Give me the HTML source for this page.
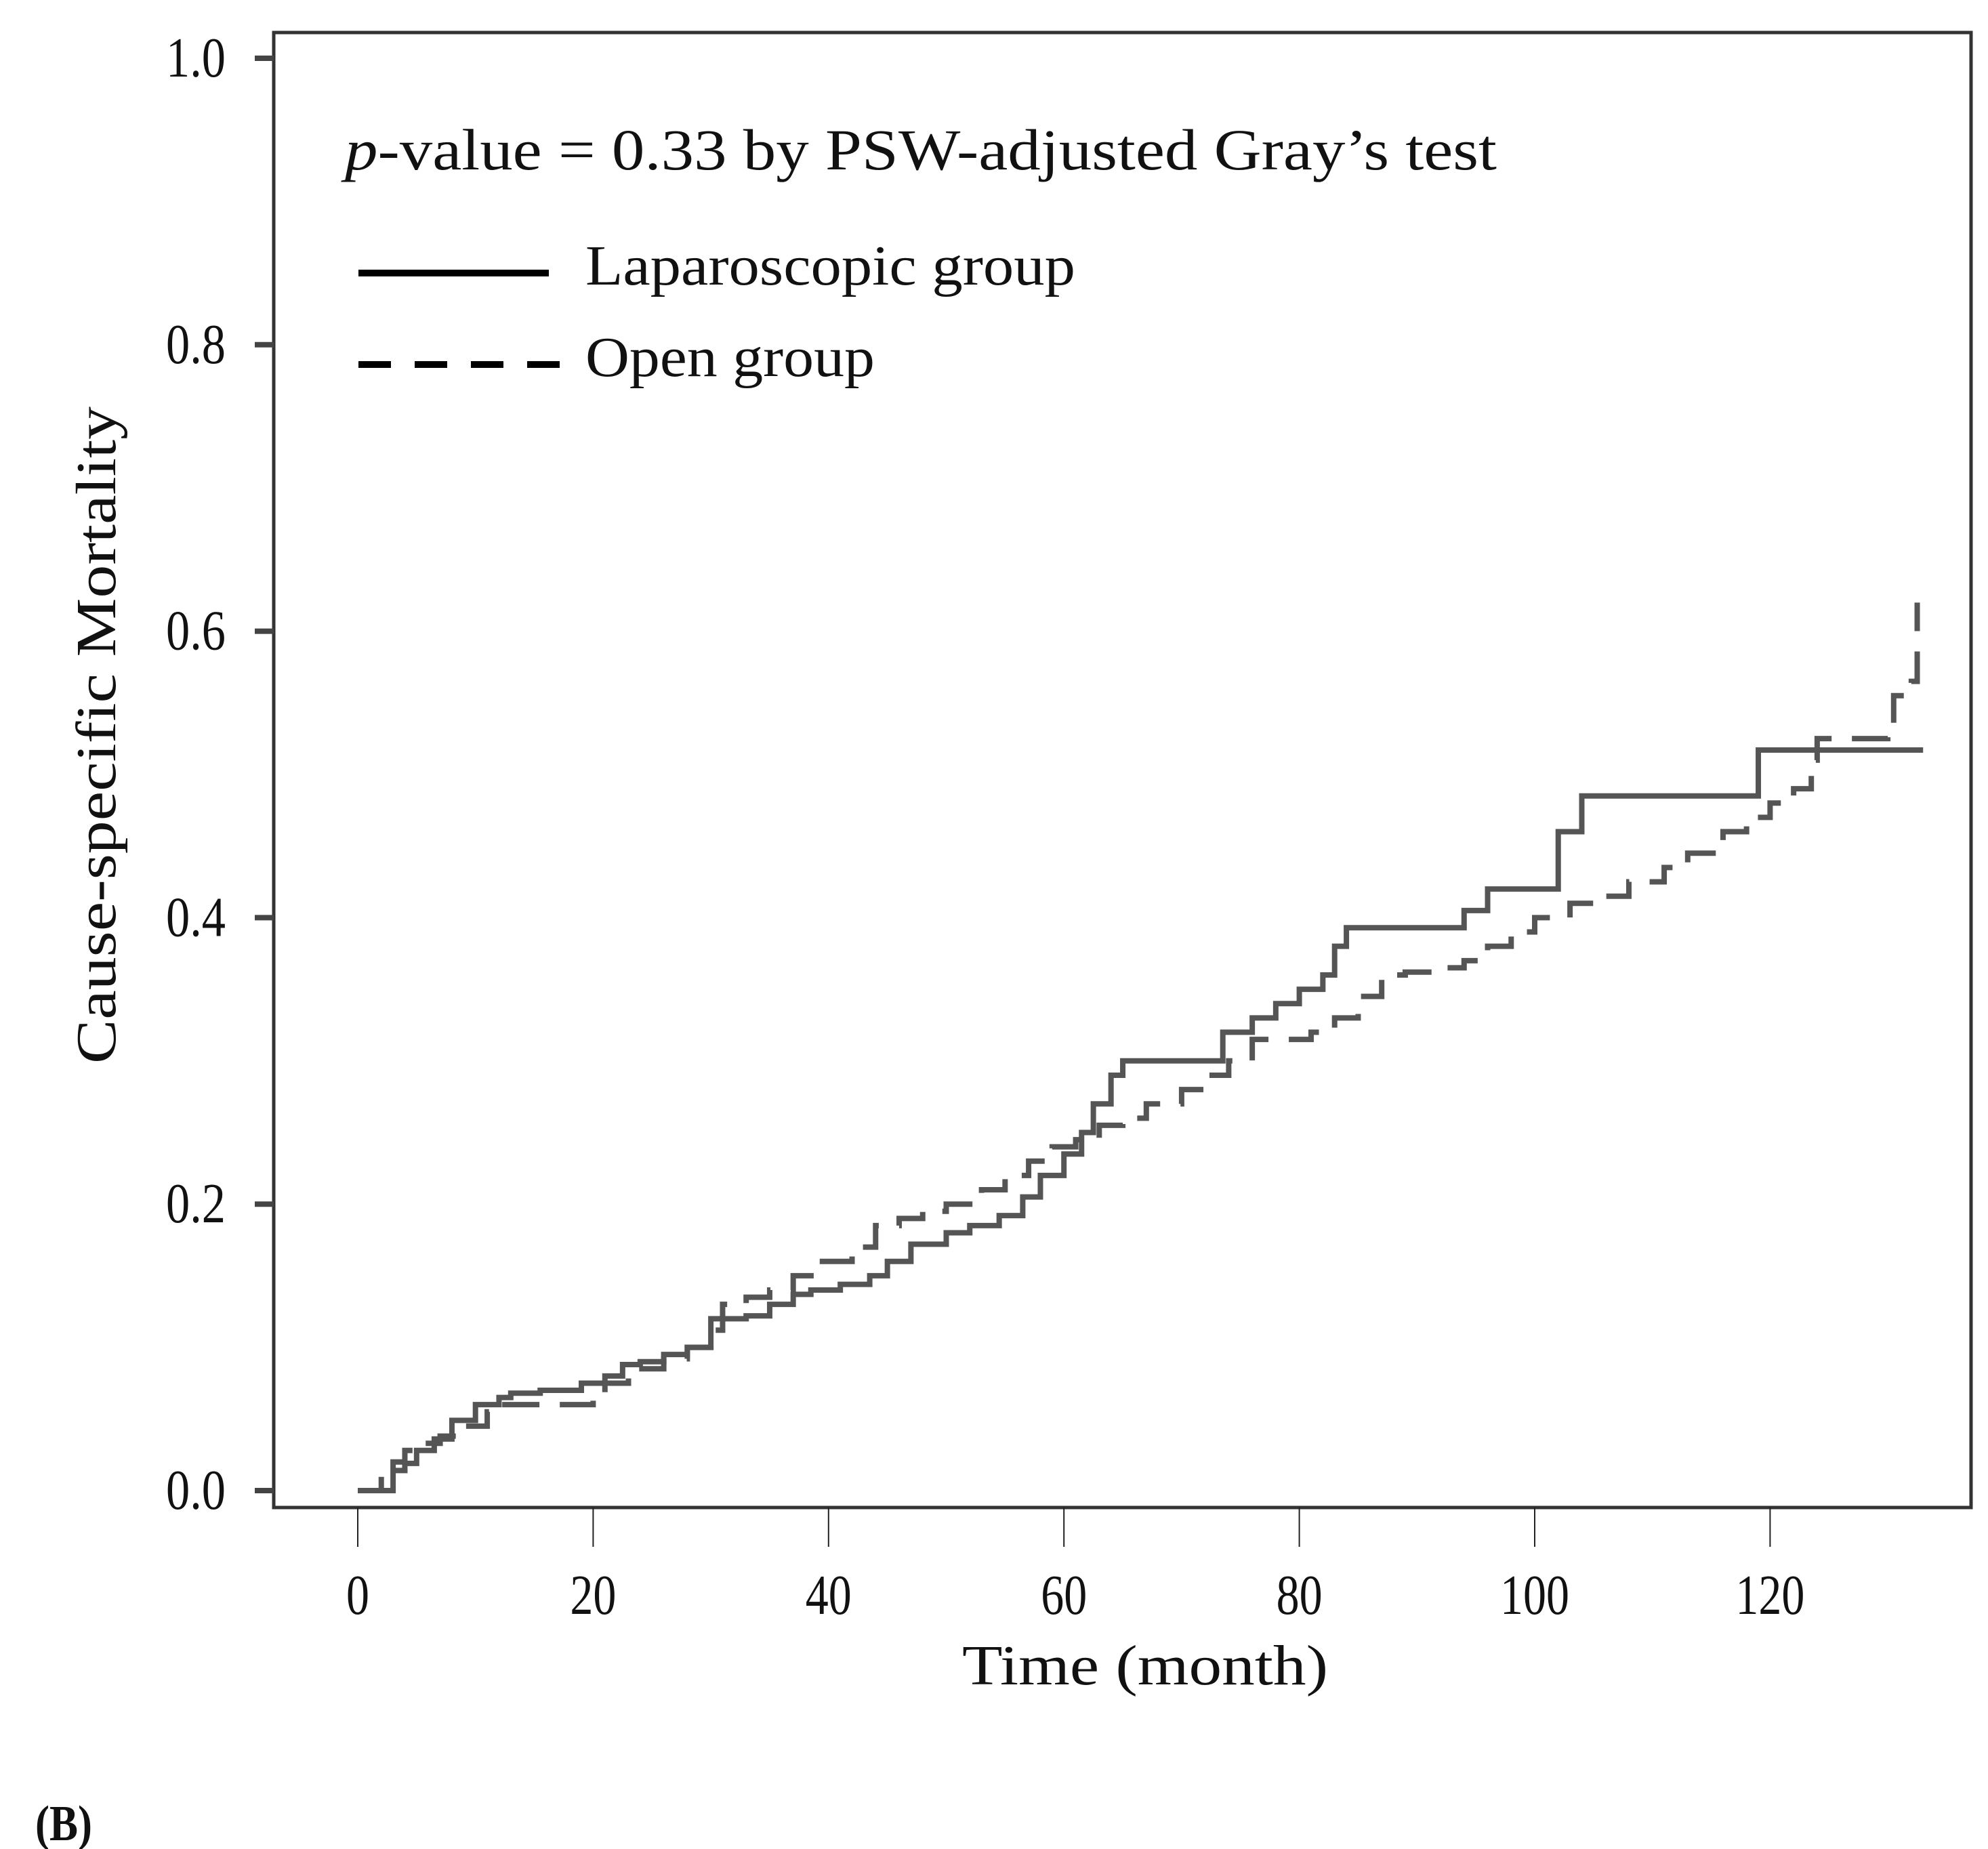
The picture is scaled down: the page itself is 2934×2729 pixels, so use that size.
<!DOCTYPE html>
<html><head><meta charset="utf-8"><style>
html,body{margin:0;padding:0;background:#fff}
svg{display:block}
text{font-family:"Liberation Serif",serif;fill:#111}
</style></head><body>
<svg id="chart" width="2934" height="2729" viewBox="0 0 2934 2729" xmlns="http://www.w3.org/2000/svg">
<rect x="404" y="48" width="2505" height="2177" fill="none" stroke="#333" stroke-width="5"/>
<g id="yaxis"></g>
<g id="xaxis"></g>
<g id="series"></g>
<text transform="translate(170,1085) rotate(-90)" text-anchor="middle" font-size="84" textLength="970" lengthAdjust="spacingAndGlyphs">Cause-specific Mortality</text>
<text x="1690" y="2486" text-anchor="middle" font-size="84" textLength="540" lengthAdjust="spacingAndGlyphs">Time (month)</text>
<text x="509" y="250" font-size="86" textLength="1700" lengthAdjust="spacingAndGlyphs"><tspan font-style="italic">p</tspan>-value = 0.33 by PSW-adjusted Gray’s test</text>
<g>
<line x1="529" y1="403" x2="810" y2="403" stroke="#000" stroke-width="10"/>
<text x="864" y="420" font-size="84" textLength="723" lengthAdjust="spacingAndGlyphs">Laparoscopic group</text>
<line x1="529" y1="538" x2="826" y2="538" stroke="#000" stroke-width="10" stroke-dasharray="48 35"/>
<text x="864" y="555" font-size="84" textLength="427" lengthAdjust="spacingAndGlyphs">Open group</text>
</g>
<text x="52" y="2716" font-size="74" font-weight="bold" textLength="84" lengthAdjust="spacingAndGlyphs">(B)</text>
</svg>
<script>
const yTicks = [0.0, 0.2, 0.4, 0.6, 0.8, 1.0];
const yTickLabels = ["0.0", "0.2", "0.4", "0.6", "0.8", "1.0"];
const xTicks = [0, 20, 40, 60, 80, 100, 120];
const xTickLabels = ["0", "20", "40", "60", "80", "100", "120"];
const lapTimes = [0,1.5,3,4,5,6.5,8,10,12,13,15.5,19,21,22.5,24,26,28,30,31.5,33,35,37,38.5,41,43.5,45,47,50,52,54.5,56.5,58,60,61.5,62.5,64,65,72,73.5,76,78,80,82,83,84,93,94,96,101,102,104,119,133];
const lapValues = [0,0,0.014,0.019,0.028,0.036,0.049,0.06,0.065,0.068,0.07,0.075,0.08,0.088,0.09,0.095,0.1,0.12,0.12,0.122,0.13,0.137,0.14,0.144,0.15,0.16,0.172,0.18,0.185,0.192,0.205,0.22,0.235,0.25,0.27,0.29,0.3,0.3,0.32,0.33,0.34,0.35,0.36,0.38,0.393,0.393,0.405,0.42,0.42,0.46,0.485,0.517,0.517];
const openTimes = [0,2,3,4,5,7,9,11,12,15,18,20,21,23,26,28,30,31,33,35,37,39,42,44,46,48,50,53,55,57,59,61,63,65,67,70,72,74,76,79,81,83,85,87,89,92,94,96,98,100,103,105,108,111,113,116,118,120,122,123.5,124,130,130.5,132,132.5];
const openValues = [0,0.01,0.02,0.028,0.033,0.038,0.045,0.055,0.06,0.06,0.06,0.065,0.075,0.085,0.092,0.1,0.112,0.13,0.135,0.14,0.15,0.16,0.17,0.185,0.19,0.195,0.2,0.21,0.22,0.23,0.24,0.245,0.255,0.26,0.27,0.28,0.29,0.3,0.315,0.315,0.32,0.33,0.345,0.36,0.362,0.365,0.37,0.38,0.39,0.4,0.41,0.415,0.425,0.435,0.445,0.46,0.47,0.48,0.49,0.51,0.525,0.53,0.555,0.565,0.62];

const NS = "http://www.w3.org/2000/svg";
const X0 = 528, XS = 17.37, Y0 = 2200, YS = 2114;
function xScale(t){ return X0 + t * XS; }
function yScale(v){ return Y0 - v * YS; }
function mk(tag, attrs, parent){
  const e = document.createElementNS(NS, tag);
  for (const k in attrs) e.setAttribute(k, attrs[k]);
  parent.appendChild(e);
  return e;
}
function labelWidth(s){ return s.length * 34 - (s.indexOf('.') >= 0 ? 14 : 0); }
const yg = document.getElementById('yaxis');
yTicks.forEach((v, i) => {
  const tk = mk('line', {x1: 376, x2: 404, y1: yScale(v), y2: yScale(v), stroke: '#444', 'stroke-width': 8}, yg);
  
  
  const tx = mk('text', {x: 333, y: yScale(v) + 27, 'text-anchor': 'end', 'font-size': 84, textLength: labelWidth(yTickLabels[i]), lengthAdjust: 'spacingAndGlyphs'}, yg);
  tx.textContent = yTickLabels[i];
  
  
});
const xg = document.getElementById('xaxis');
xTicks.forEach((t, i) => {
  const tk = mk('line', {x1: xScale(t), x2: xScale(t), y1: 2225, y2: 2283, stroke: '#222', 'stroke-width': 2}, xg);
  
  
  const tx = mk('text', {x: xScale(t), y: 2382, 'text-anchor': 'middle', 'font-size': 84, textLength: labelWidth(xTickLabels[i]), lengthAdjust: 'spacingAndGlyphs'}, xg);
  tx.textContent = xTickLabels[i];
  
  
});
function stepPath(ts, vs){
  let d = 'M' + xScale(ts[0]) + ' ' + yScale(vs[0]);
  for (let i = 1; i < ts.length; i++){
    d += ' L' + xScale(ts[i]) + ' ' + yScale(vs[i-1]) + ' L' + xScale(ts[i]) + ' ' + yScale(vs[i]);
  }
  return d;
}
const sg = document.getElementById('series');
const lap = mk('path', {d: stepPath(lapTimes, lapValues), fill: 'none', stroke: '#555', 'stroke-width': 8}, sg);


const op = mk('path', {d: stepPath(openTimes, openValues), fill: 'none', stroke: '#555', 'stroke-width': 8, 'stroke-dasharray': '55 30'}, sg);


</script>
</body></html>
